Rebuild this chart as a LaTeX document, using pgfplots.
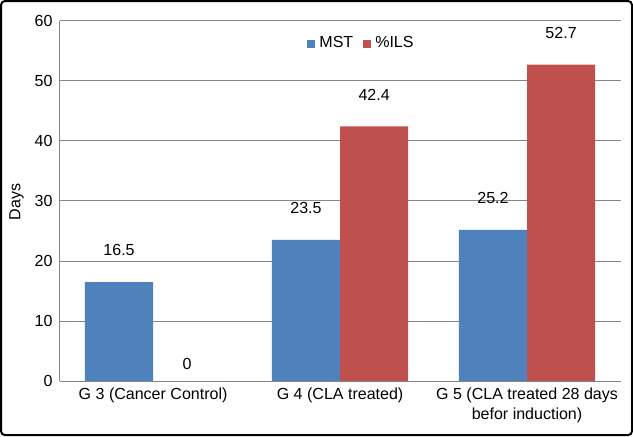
\documentclass[border=0pt]{standalone}
\usepackage{pgfplots}
\pgfplotsset{compat=1.18}
\usepackage{fontspec}
\setmainfont{Liberation Sans}
\definecolor{barblue}{HTML}{4F81BD}
\definecolor{barred}{HTML}{C0504D}
\definecolor{axgray}{HTML}{868686}
\newcommand{\chartfont}{\fontsize{8}{10}\selectfont}

\begin{document}
\begin{tikzpicture}
\begin{axis}[
    ybar=0pt,
    bar width=34pt,
    scale only axis,
    width=280pt,
    height=180pt,
    xmin=-0.5, xmax=2.5,
    ymin=0, ymax=60,
    ytick={0,10,...,60},
    xtick={0,1,2},
    xticklabels={G 3 (Cancer Control),G 4 (CLA treated),{G 5 (CLA treated 28 days\\befor induction)}},
    x tick label style={align=center, font=\chartfont},
    y tick label style={font=\chartfont},
    /pgf/number format/assume math mode=true,
    major tick length=0pt,
    axis x line*=bottom,
    axis y line*=left,
    axis line style={draw=axgray, -},
    ymajorgrids,
    grid style={draw=axgray, line width=0.5pt},
    ylabel={Days},
    every axis y label/.style={at={(rel axis cs:-0.0768,0.497)}, rotate=90, anchor=center, font=\chartfont},
    clip=false,
    nodes near coords,
    visualization depends on={y \as \rawy},
    nodes near coords style={font=\chartfont, text=black, anchor=south,
        yshift={ifthenelse(\rawy<0.01,2,9.5)}},
    legend columns=2,
    legend style={draw=none, fill=none, font=\chartfont,
        at={(rel axis cs:0.54,0.936)}, anchor=center,
        /tikz/every even column/.append style={column sep=3pt}},
    legend image code/.code={\fill[#1] (0pt,-2pt) rectangle (4pt,2pt);},
]
\addplot[fill=barblue, draw=none] coordinates {(0,16.5) (1,23.5) (2,25.2)};
\addplot[fill=barred, draw=none] coordinates {(0,0) (1,42.4) (2,52.7)};
\legend{MST,\%ILS}
\draw[black, line width=1pt, rounded corners=2pt]
    (rel axis cs:-0.1045,-0.1495) rectangle (rel axis cs:1.0205,1.0545);
\end{axis}
\end{tikzpicture}
\end{document}
